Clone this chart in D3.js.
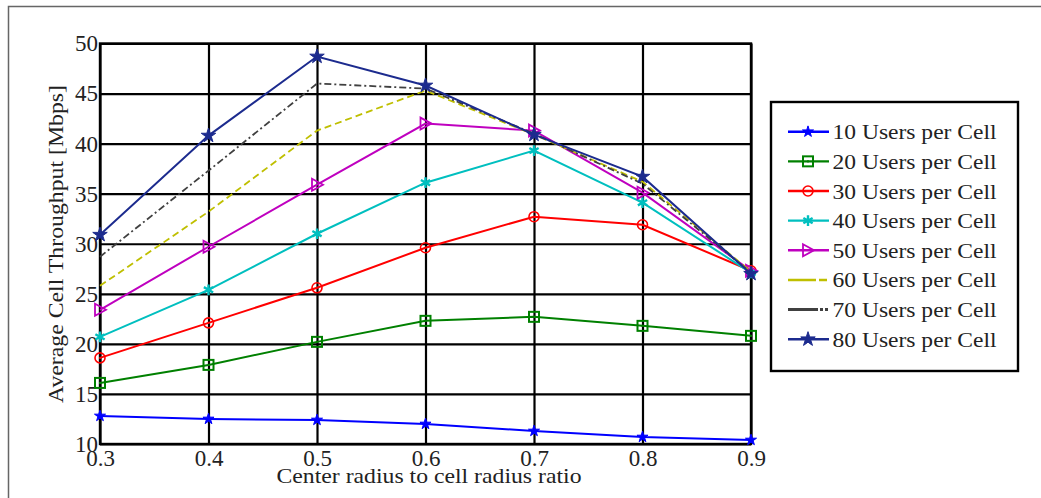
<!DOCTYPE html>
<html>
<head>
<meta charset="utf-8">
<script src="https://cdn.jsdelivr.net/npm/d3@7"></script>
<style>
  body { margin: 0; background: #fff; }
  svg { display: block; }
  text { font-family: "Liberation Serif", "DejaVu Serif", serif; fill: #222; }
</style>
</head>
<body>
<div id="chart"></div>
<script>
// data
const ratios = [0.3, 0.4, 0.5, 0.6, 0.7, 0.8, 0.9];
const yTicks = [10, 15, 20, 25, 30, 35, 40, 45, 50];
const seriesNames = ['10 Users per Cell', '20 Users per Cell', '30 Users per Cell', '40 Users per Cell',
    '50 Users per Cell', '60 Users per Cell', '70 Users per Cell', '80 Users per Cell'];
const users10 = [12.8, 12.5, 12.4, 12.0, 11.3, 10.7, 10.4];
const users20 = [16.1, 17.9, 20.2, 22.3, 22.7, 21.8, 20.8];
const users30 = [18.6, 22.1, 25.6, 29.6, 32.7, 31.9, 27.3];
const users40 = [20.7, 25.4, 31.0, 36.1, 39.3, 34.1, 27.1];
const users50 = [23.4, 29.7, 35.9, 42.0, 41.3, 35.1, 27.3];
const users60 = [25.8, 33.2, 41.3, 45.3, 40.9, 36.2, 27.2];
const users70 = [28.7, 37.3, 46.0, 45.5, 41.0, 36.0, 27.1];
const users80 = [30.9, 40.8, 48.7, 45.8, 40.9, 36.7, 27.0];

const seriesValues = [users10, users20, users30, users40, users50, users60, users70, users80];
const colors = ['#0000ff', '#008000', '#ff0000', '#00bfbf', '#bf00bf', '#bfbf00', '#404040', '#1c2b8e'];
const dashes = [null, null, null, null, null, '7,4', '7,3,2,3', null];
const markers = ['star', 'square', 'circle', 'asterisk', 'triangle', null, null, 'bigstar'];

const width = 1041, height = 498;
const svg = d3.select('#chart').append('svg')
    .attr('width', width)
    .attr('height', height);

// outer frame (only top and left edges are visible)
svg.append('path')
    .attr('d', 'M8.5,498V6.5H1041')
    .attr('fill', 'none')
    .attr('stroke', '#666')
    .attr('stroke-width', 1.5);

const x = d3.scaleLinear().domain([0.3, 0.9]).range([100, 751]);
const y = d3.scaleLinear().domain([10, 50]).range([444, 43.5]);

// grid via axes
const gx = svg.append('g')
    .attr('transform', `translate(0,${y(10)})`)
    .call(d3.axisBottom(x).tickValues(ratios).tickSize(-(y(10) - y(50))).tickSizeOuter(0)
        .tickPadding(8).tickFormat(d3.format('.1f')));
const gy = svg.append('g')
    .attr('transform', `translate(${x(0.3)},0)`)
    .call(d3.axisLeft(y).tickValues(yTicks).tickSize(-(x(0.9) - x(0.3))).tickSizeOuter(0)
        .tickPadding(2));

[gx, gy].forEach(g => {
    g.select('.domain').remove();
    g.selectAll('.tick line').attr('stroke', '#000').attr('stroke-width', 2.2);
    g.selectAll('.tick text').attr('font-size', 23).attr('fill', '#222')
        .attr('font-family', '"Liberation Serif", serif');
});
gx.selectAll('.tick text').attr('dy', '0.6em');

// plot border
svg.append('rect')
    .attr('x', x(0.3)).attr('y', y(50))
    .attr('width', x(0.9) - x(0.3)).attr('height', y(10) - y(50))
    .attr('fill', 'none').attr('stroke', '#000').attr('stroke-width', 2.4);

function drawMarker(g, type, color, cx, cy) {
    if (!type) return;
    if (type === 'star') {
        g.append('path').attr('d', d3.symbol(d3.symbolStar, 38)())
            .attr('transform', `translate(${cx},${cy})`).attr('fill', color).attr('stroke', color).attr('stroke-width', 1);
    } else if (type === 'bigstar') {
        g.append('path').attr('d', d3.symbol(d3.symbolStar, 65)())
            .attr('transform', `translate(${cx},${cy})`).attr('fill', color).attr('stroke', color).attr('stroke-width', 1);
    } else if (type === 'square') {
        g.append('rect').attr('x', cx - 5).attr('y', cy - 5).attr('width', 10).attr('height', 10)
            .attr('fill', 'none').attr('stroke', color).attr('stroke-width', 2);
        g.append('rect').attr('x', cx - 1).attr('y', cy - 1).attr('width', 2).attr('height', 2).attr('fill', color);
    } else if (type === 'circle') {
        g.append('circle').attr('cx', cx).attr('cy', cy).attr('r', 5)
            .attr('fill', 'none').attr('stroke', color).attr('stroke-width', 1.6);
        g.append('circle').attr('cx', cx).attr('cy', cy).attr('r', 1).attr('fill', color);
    } else if (type === 'asterisk') {
        g.append('path').attr('d', d3.symbol(d3.symbolAsterisk, 80)())
            .attr('transform', `translate(${cx},${cy})`).attr('fill', 'none').attr('stroke', color).attr('stroke-width', 2.4);
    } else if (type === 'triangle') {
        g.append('path').attr('d', `M${cx - 5},${cy - 6}L${cx + 6},${cy}L${cx - 5},${cy + 6}Z`)
            .attr('fill', 'none').attr('stroke', color).attr('stroke-width', 1.8);
    }
}

const line = d3.line().x((d, i) => x(ratios[i])).y(d => y(d));
const plot = svg.append('g');
seriesValues.forEach((vals, s) => {
    const g = plot.append('g');
    g.append('path')
        .datum(vals)
        .attr('d', line)
        .attr('fill', 'none')
        .attr('stroke', colors[s])
        .attr('stroke-width', s === 5 || s === 6 ? 1.8 : 2)
        .attr('stroke-dasharray', dashes[s]);
    vals.forEach((v, i) => drawMarker(g, markers[s], colors[s], x(ratios[i]), y(v)));
});

// axis titles
svg.append('text')
    .attr('x', 429).attr('y', 483)
    .attr('text-anchor', 'middle')
    .attr('font-size', 22)
    .attr('textLength', 305).attr('lengthAdjust', 'spacingAndGlyphs')
    .text('Center radius to cell radius ratio');

svg.append('text')
    .attr('transform', 'translate(63,244) rotate(-90)')
    .attr('text-anchor', 'middle')
    .attr('font-size', 22)
    .attr('textLength', 318).attr('lengthAdjust', 'spacingAndGlyphs')
    .text('Average Cell Throughput [Mbps]');

// legend
const legend = svg.append('g');
legend.append('rect')
    .attr('x', 771).attr('y', 102)
    .attr('width', 247).attr('height', 269)
    .attr('fill', '#fff').attr('stroke', '#000').attr('stroke-width', 2.4);

seriesNames.forEach((name, s) => {
    const cy = 131.7 + s * 29.65;
    legend.append('line')
        .attr('x1', 788).attr('x2', 829).attr('y1', cy).attr('y2', cy)
        .attr('stroke', colors[s])
        .attr('stroke-width', s === 6 ? 3 : 2.4)
        .attr('stroke-dasharray', s === 5 ? '28,3,8' : s === 6 ? '30,2,3,2,3' : null);
    drawMarker(legend, markers[s], colors[s], 808, cy);
    legend.append('text')
        .attr('x', 832.5).attr('y', cy + 7.5)
        .attr('font-size', 22)
        .attr('textLength', 164).attr('lengthAdjust', 'spacingAndGlyphs')
        .text(name);
});
</script>
</body>
</html>
